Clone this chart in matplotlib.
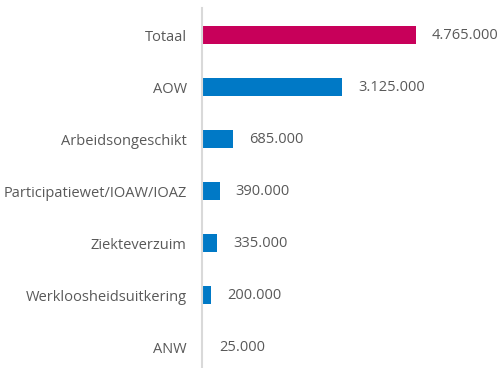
import matplotlib.pyplot as plt

categories = ['Totaal', 'AOW', 'Arbeidsongeschikt', 'Participatiewet/IOAW/IOAZ',
              'Ziekteverzuim', 'Werkloosheidsuitkering', 'ANW']
values = [4765000, 3125000, 685000, 390000, 335000, 200000, 25000]
colors = ['#C8005A'] + ['#0079C6'] * 6

plt.rcParams['font.family'] = ['Open Sans', 'DejaVu Sans']
text_color = '#595959'

fig = plt.figure(figsize=(4.99, 3.68), dpi=100)
ax = fig.add_axes([202 / 499, 0, 297 / 499, 360 / 368])

y = range(len(categories))
ax.barh(y, values, height=0.35, color=colors)
ax.set_ylim(6.4, -0.52)
ax.set_xlim(0, 6613000)

for yi, v in zip(y, values):
    label = f'{v:,}'.replace(',', '.')
    ax.annotate(label, (v, yi), xytext=(11.5, 0), textcoords='offset points',
                va='center', ha='left', fontsize=10.5, color=text_color)

ax.set_yticks(list(y))
ax.set_yticklabels(categories, fontsize=10.5, color=text_color)
ax.tick_params(axis='y', length=0, pad=11)
ax.set_xticks([])
for side in ['top', 'right', 'bottom']:
    ax.spines[side].set_visible(False)
ax.spines['left'].set_color('#D9D9D9')
ax.spines['left'].set_linewidth(1.5)

fig.savefig('out.png', dpi=100)
